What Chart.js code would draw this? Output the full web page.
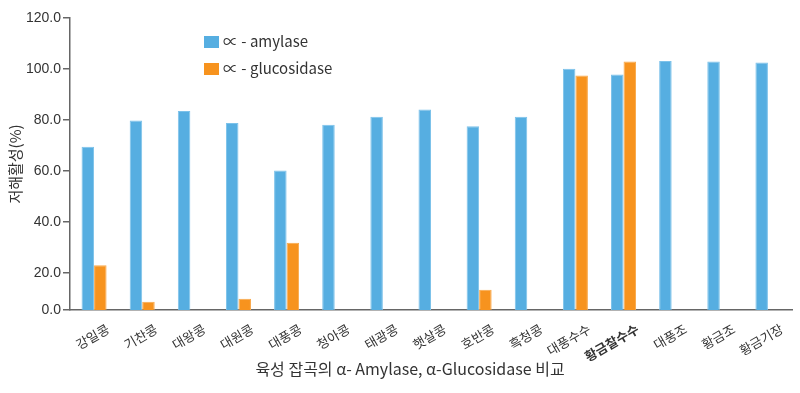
<!DOCTYPE html>
<html><head><meta charset="utf-8">
<script src="https://cdn.jsdelivr.net/npm/chart.js@4"></script>
<style>html,body{margin:0;padding:0;background:#fff}#wrap{width:800px;height:393px;position:relative}</style>
</head><body><div id="wrap"><canvas id="c"></canvas></div>
<script>
const categories = ['강일콩','기찬콩','대왕콩','대원콩','대풍콩','청아콩','태광콩','햇살콩','호반콩','흑청콩','대풍수수','황금찰수수','대풍조','황금조','황금기장'];
const amylase = [69.5,79.8,83.5,78.8,60.1,78.1,81.2,84.1,77.5,81.2,100.1,97.8,103.1,102.9,102.5];
const glucosidase = [23.0,8.6,null,9.8,31.8,null,null,null,13.3,null,97.4,102.9,null,null,null];
const seriesNames = ['∝ - amylase','∝ - glucosidase'];
const yTickValues = [0,20,40,60,80,100,120];
const yAxisTitle = '저해활성(%)';
const xAxisTitle = '육성 잡곡의 α- Amylase, α-Glucosidase 비교';
const boldCategory = '황금찰수수';

const Y_MIN = 5.4;
const numFont = "'Liberation Sans Narrow','Liberation Sans',sans-serif";
const korFont = "'Noto Sans CJK KR','Noto Sans',sans-serif";

const extras = {
  id: 'extras',
  afterDraw(chart) {
    const ctx = chart.ctx;
    ctx.save();
    chart.data.datasets.forEach((ds, i) => {
      const y = 36 + i * 27;
      ctx.fillStyle = ds.backgroundColor;
      ctx.fillRect(204, y, 15, 12);
      ctx.fillStyle = '#333';
      ctx.font = "15px " + korFont;
      ctx.textBaseline = 'middle';
      ctx.textAlign = 'left';
      ctx.fillText(ds.label, 223, y + 5);
    });
    ctx.font = "16px " + korFont;
    ctx.fillStyle = '#333';
    ctx.textAlign = 'center';
    ctx.textBaseline = 'middle';
    ctx.fillText(xAxisTitle, 410, 369);
    ctx.restore();
  }
};

new Chart(document.getElementById('c'), {
  type: 'bar',
  data: {
    labels: categories,
    datasets: [
      { label: seriesNames[0], data: amylase, backgroundColor: '#56AEE1', borderColor: '#7cc2ea', borderWidth: 1 },
      { label: seriesNames[1], data: glucosidase, backgroundColor: '#F7931E', borderColor: '#f9a84a', borderWidth: 1 }
    ]
  },
  options: {
    responsive: true, maintainAspectRatio: false, animation: false,
    layout: { padding: { top: 18, right: 8, left: 0, bottom: 0 } },
    plugins: { legend: { display: false }, tooltip: { enabled: false } },
    datasets: { bar: { categoryPercentage: 0.52, barPercentage: 1.0 } },
    scales: {
      x: {
        grid: { display: false },
        border: { display: true, color: '#666', width: 1.5 },
        ticks: {
          minRotation: 30, maxRotation: 30, autoSkip: false, padding: 3, labelOffset: 14,
          color: '#333',
          font: (c) => ({ family: korFont, size: 13, weight: (categories[c.index] === boldCategory) ? 'bold' : 'normal' })
        },
        afterFit: (s) => { s.height = 83; }
      },
      y: {
        min: Y_MIN, max: 120,
        afterBuildTicks: (s) => { s.ticks = yTickValues.map(v => ({ value: Math.max(v, Y_MIN) })); },
        grid: { drawOnChartArea: false, drawTicks: true, tickLength: 7, color: '#666', lineWidth: 1.5 },
        border: { display: true, color: '#666', width: 1.5 },
        ticks: {
          color: '#333', padding: 2,
          font: { family: numFont, size: 14 },
          callback: (v) => (v <= Y_MIN ? 0 : v).toFixed(1)
        },
        title: { display: true, text: yAxisTitle, color: '#333', font: { family: korFont, size: 15 }, padding: { top: 6, bottom: 0 } },
        afterFit: (s) => { s.width = 70; }
      }
    }
  },
  plugins: [extras]
});
</script></body></html>
